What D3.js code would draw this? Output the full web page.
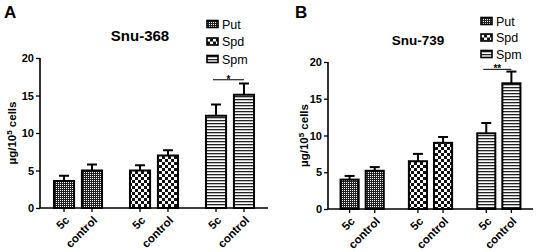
<!DOCTYPE html>
<html>
<head>
<meta charset="utf-8">
<script src="https://cdn.jsdelivr.net/npm/d3@7"></script>
<style>
    body { margin: 0; background: #fff; }
    svg { display: block; font-family: Arial, "Liberation Sans", sans-serif; }
    .tick-label { font-size: 11px; font-weight: bold; }
    .x-label { font-size: 11.5px; font-weight: bold; }
    .y-title { font-size: 11.5px; font-weight: bold; }
    .legend text { font-size: 12.5px; }
</style>
</head>
<body>
<div id="chart-area"></div>
<script>
const polyamines = ["Put", "Spd", "Spm"];
const conditions = ["5c", "control"];
const yTicks = [0, 5, 10, 15, 20];
const snu368Means = [3.6, 5.0, 5.0, 7.0, 12.3, 15.1];
const snu368Errors = [0.7, 0.8, 0.7, 0.7, 1.5, 1.5];
const snu739Means = [4.0, 5.2, 6.5, 9.0, 10.3, 17.1];
const snu739Errors = [0.5, 0.5, 1.0, 0.8, 1.4, 1.6];
const snu368Sig = { group: "Spm", level: 17.1, mark: "*" };
const snu739Sig = { group: "Spm", level: 19.0, mark: "**" };

const chartSize = { width: 536, height: 252 };
const panels = [
    { letter: "A", title: "Snu-368", means: snu368Means, errors: snu368Errors, sig: snu368Sig,
      left: 40, right: 268, top: 58, bottom: 208, titleX: 140, titleY: 41, titleSize: 15,
      letterX: 4, legendX: 207, legendY: 24, legendStep: 17.5, yTitleX: 16 },
    { letter: "B", title: "Snu-739", means: snu739Means, errors: snu739Errors, sig: snu739Sig,
      left: 328, right: 533, top: 62, bottom: 209, titleX: 418, titleY: 45, titleSize: 13.5,
      letterX: 295, legendX: 481, legendY: 21, legendStep: 16.5, yTitleX: 308 }
];

const svg = d3.select("#chart-area")
    .append("svg")
    .attr("width", chartSize.width)
    .attr("height", chartSize.height);

// fill patterns
const defs = svg.append("defs");
const put = defs.append("pattern").attr("id", "pat-Put")
    .attr("patternUnits", "userSpaceOnUse").attr("width", 2).attr("height", 2);
put.append("rect").attr("width", 2).attr("height", 2).attr("fill", "#222");
put.append("rect").attr("width", 1).attr("height", 1).attr("fill", "#fff");
const spd = defs.append("pattern").attr("id", "pat-Spd")
    .attr("patternUnits", "userSpaceOnUse").attr("width", 6).attr("height", 6);
spd.append("rect").attr("width", 6).attr("height", 6).attr("fill", "#fff");
spd.append("rect").attr("width", 3).attr("height", 3).attr("fill", "#111");
spd.append("rect").attr("x", 3).attr("y", 3).attr("width", 3).attr("height", 3).attr("fill", "#111");
const spm = defs.append("pattern").attr("id", "pat-Spm")
    .attr("patternUnits", "userSpaceOnUse").attr("width", 3).attr("height", 3);
spm.append("rect").attr("width", 3).attr("height", 3).attr("fill", "#fff");
spm.append("rect").attr("width", 3).attr("height", 1.3).attr("fill", "#222");

const drawPanel = function(p) {
    const g = svg.append("g");
    const rows = polyamines.flatMap((pa, i) =>
        conditions.map((c, j) => ({ pa, c, mean: p.means[i * 2 + j], err: p.errors[i * 2 + j] })));

    const y = d3.scaleLinear().domain([0, 20]).range([p.bottom, p.top]);
    const x0 = d3.scaleBand().domain(polyamines).range([p.left, p.right]);
    const x1 = d3.scaleBand().domain(conditions).range([0, x0.bandwidth()])
        .paddingInner(0.28).paddingOuter(0.5);
    const cx = d => x0(d.pa) + x1(d.c) + x1.bandwidth() / 2;

    // bars
    g.selectAll(".bar").data(rows).join("rect")
        .attr("class", "bar")
        .attr("x", d => x0(d.pa) + x1(d.c))
        .attr("y", d => y(d.mean))
        .attr("width", x1.bandwidth())
        .attr("height", d => y(0) - y(d.mean))
        .attr("fill", d => `url(#pat-${d.pa})`)
        .attr("stroke", "#000")
        .attr("stroke-width", 2);

    // error bars
    g.selectAll(".err").data(rows).join("line")
        .attr("x1", cx).attr("x2", cx)
        .attr("y1", d => y(d.mean)).attr("y2", d => y(d.mean + d.err))
        .attr("stroke", "#000").attr("stroke-width", 2);
    g.selectAll(".cap").data(rows).join("line")
        .attr("x1", d => cx(d) - 5).attr("x2", d => cx(d) + 5)
        .attr("y1", d => y(d.mean + d.err)).attr("y2", d => y(d.mean + d.err))
        .attr("stroke", "#000").attr("stroke-width", 2);

    // y axis
    const yAxis = g.append("g")
        .attr("transform", `translate(${p.left},0)`)
        .call(d3.axisLeft(y).tickValues(yTicks).tickSize(4).tickPadding(2));
    yAxis.select(".domain").attr("stroke-width", 1.6).attr("d", `M0,${p.bottom}V${p.top}`);
    yAxis.selectAll(".tick line").attr("stroke-width", 1.3);
    yAxis.selectAll(".tick text").attr("class", "tick-label").attr("fill", "#000");

    // x axis
    g.append("line")
        .attr("x1", p.left).attr("x2", p.right)
        .attr("y1", y(0)).attr("y2", y(0))
        .attr("stroke", "#000").attr("stroke-width", 1.6);
    g.selectAll(".xtick").data(rows).join("line")
        .attr("x1", cx).attr("x2", cx)
        .attr("y1", y(0)).attr("y2", y(0) + 4)
        .attr("stroke", "#000").attr("stroke-width", 1.3);
    g.selectAll(".x-label").data(rows).join("text")
        .attr("class", "x-label")
        .attr("text-anchor", "end")
        .attr("transform", d => `translate(${cx(d) + 6},${y(0) + 13}) rotate(-45)`)
        .text(d => d.c);

    // y title
    const yt = g.append("text")
        .attr("class", "y-title")
        .attr("text-anchor", "middle")
        .attr("transform", `translate(${p.yTitleX},${(p.top + p.bottom) / 2}) rotate(-90)`);
    yt.append("tspan").text("µg/10");
    yt.append("tspan").attr("dy", -4).attr("font-size", "8px").text("5");
    yt.append("tspan").attr("dy", 4).text(" cells");

    // titles
    g.append("text").attr("x", p.titleX).attr("y", p.titleY)
        .attr("text-anchor", "middle").attr("font-weight", "bold")
        .attr("font-size", p.titleSize + "px").text(p.title);
    g.append("text").attr("x", p.letterX).attr("y", 18)
        .attr("font-weight", "bold").attr("font-size", "17px").text(p.letter);

    // significance
    const sx1 = x0(p.sig.group) + x1(conditions[0]) + x1.bandwidth() / 2 - 3;
    const sx2 = x0(p.sig.group) + x1(conditions[1]) + x1.bandwidth() / 2;
    g.append("line")
        .attr("x1", sx1).attr("x2", sx2)
        .attr("y1", y(p.sig.level)).attr("y2", y(p.sig.level))
        .attr("stroke", "#000").attr("stroke-width", 1);
    g.append("text").attr("x", (sx1 + sx2) / 2).attr("y", y(p.sig.level) + 3)
        .attr("text-anchor", "middle").attr("font-size", "10px").attr("font-weight", "bold")
        .text(p.sig.mark);

    // legend
    const lg = g.append("g").attr("class", "legend")
        .attr("transform", `translate(${p.legendX},${p.legendY})`);
    const item = lg.selectAll("g").data(polyamines).join("g")
        .attr("transform", (d, i) => `translate(0,${i * p.legendStep})`);
    item.append("rect")
        .attr("x", 0).attr("y", -3.5).attr("width", 11).attr("height", 7)
        .attr("fill", d => `url(#pat-${d})`)
        .attr("stroke", "#000").attr("stroke-width", 1.6);
    item.append("text").attr("x", 15).attr("y", 4.5).text(d => d);
};

panels.forEach(drawPanel);
</script>
</body>
</html>
